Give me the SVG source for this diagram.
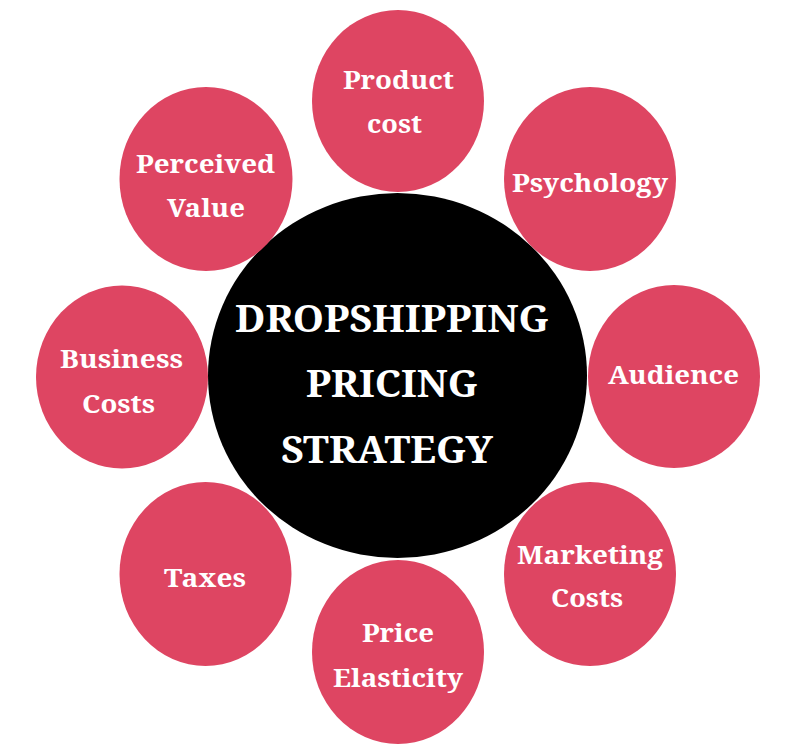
<svg xmlns="http://www.w3.org/2000/svg" width="796" height="752" viewBox="0 0 796 752">
<style>
.n{fill:#de4562}
.c{fill:#000}
text{font-family:"Noto Serif","DejaVu Serif","Liberation Serif",serif;font-weight:bold;fill:#fff;text-anchor:middle}
.s{font-size:25px}
.b{font-size:38px}
</style>
<rect width="796" height="752" fill="#fff"/>
<g id="connectors"></g>
<g id="center">
<ellipse class="c" cx="397.5" cy="375.5" rx="189.5" ry="182.5"/>
<text class="b" x="392" y="332" textLength="314" lengthAdjust="spacingAndGlyphs">DROPSHIPPING</text>
<text class="b" x="392" y="397" textLength="172" lengthAdjust="spacingAndGlyphs">PRICING</text>
<text class="b" x="387" y="463" textLength="212" lengthAdjust="spacingAndGlyphs">STRATEGY</text>
</g>
<g id="product-cost">
<ellipse class="n" cx="398" cy="101" rx="86" ry="91"/>
<text class="s" x="398.5" y="89" textLength="111" lengthAdjust="spacingAndGlyphs">Product</text>
<text class="s" x="394.5" y="133" textLength="55" lengthAdjust="spacingAndGlyphs">cost</text>
</g>
<g id="psychology">
<ellipse class="n" cx="590" cy="179" rx="86" ry="92"/>
<text class="s" x="590" y="192" textLength="156" lengthAdjust="spacingAndGlyphs">Psychology</text>
</g>
<g id="audience">
<ellipse class="n" cx="674" cy="376.5" rx="86" ry="91.5"/>
<text class="s" x="673.5" y="384" textLength="131" lengthAdjust="spacingAndGlyphs">Audience</text>
</g>
<g id="marketing-costs">
<ellipse class="n" cx="590" cy="574" rx="86" ry="92"/>
<text class="s" x="590" y="564" textLength="146" lengthAdjust="spacingAndGlyphs">Marketing</text>
<text class="s" x="587" y="607" textLength="72" lengthAdjust="spacingAndGlyphs">Costs</text>
</g>
<g id="price-elasticity">
<ellipse class="n" cx="398" cy="652" rx="86" ry="92"/>
<text class="s" x="398" y="642" textLength="72" lengthAdjust="spacingAndGlyphs">Price</text>
<text class="s" x="398" y="687" textLength="130" lengthAdjust="spacingAndGlyphs">Elasticity</text>
</g>
<g id="taxes">
<ellipse class="n" cx="205.5" cy="574" rx="86" ry="92"/>
<text class="s" x="205" y="587" textLength="82" lengthAdjust="spacingAndGlyphs">Taxes</text>
</g>
<g id="business-costs">
<ellipse class="n" cx="122" cy="377" rx="86" ry="91.5"/>
<text class="s" x="121.5" y="368" textLength="123" lengthAdjust="spacingAndGlyphs">Business</text>
<text class="s" x="118.5" y="413" textLength="73" lengthAdjust="spacingAndGlyphs">Costs</text>
</g>
<g id="perceived-value">
<ellipse class="n" cx="206" cy="179" rx="86.5" ry="92"/>
<text class="s" x="205.5" y="173" textLength="139" lengthAdjust="spacingAndGlyphs">Perceived</text>
<text class="s" x="206" y="217" textLength="78" lengthAdjust="spacingAndGlyphs">Value</text>
</g>
</svg>
